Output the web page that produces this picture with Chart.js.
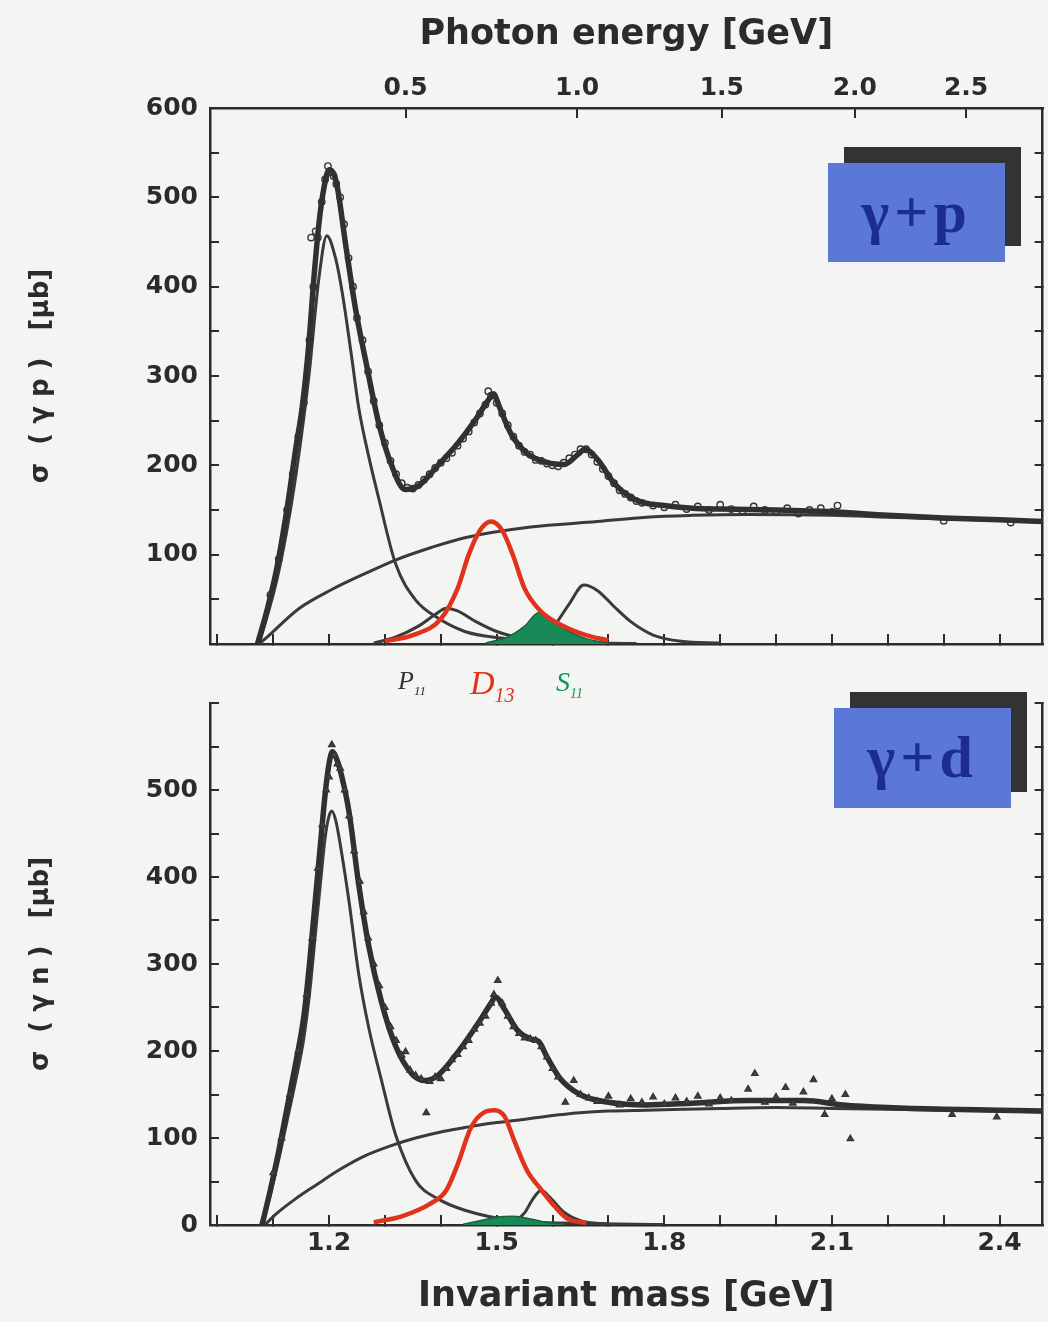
<!DOCTYPE html>
<html>
<head>
<meta charset="utf-8">
<script src="https://cdn.jsdelivr.net/npm/chart.js@4.4.0/dist/chart.umd.min.js"></script>
<style>
body { margin: 0; background: #f4f5f2; width: 1048px; height: 1322px; position: relative; overflow: hidden; }
canvas { position: absolute; left: 0; }
#proton-canvas { top: 0; }
#neutron-canvas { top: 667px; }
.tag { position: absolute; width: 177px; height: 99px; background: #5b78d6; box-shadow: 16px -16px 0 #333;
	font-family: "Liberation Serif", serif; font-size: 60px; font-weight: bold; color: #1d2c91; text-align: center; line-height: 99px; letter-spacing: 5px; }
.res { position: absolute; font-family: "Liberation Serif", serif; font-style: italic; }
</style>
</head>
<body>
<canvas id="proton-canvas" width="1048" height="680"></canvas>
<canvas id="neutron-canvas" width="1048" height="655"></canvas>
<div class="tag" style="left:828px; top:163px;">γ+p</div>
<div class="tag" style="left:834px; top:708px; height:100px;">γ+d</div>
<span class="res" style="left:398px; top:666px; font-size:26px; color:#333;">P<sub style="font-size:13px">11</sub></span>
<span class="res" style="left:470px; top:664px; font-size:34px; color:#e0321c;">D<sub style="font-size:20px">13</sub></span>
<span class="res" style="left:556px; top:666px; font-size:28px; color:#10965a;">S<sub style="font-size:14px">11</sub></span>
<script>
// axis ranges and ticks
const massMin = 0.987, massMax = 2.477;
const massTicks = [1.0, 1.1, 1.2, 1.3, 1.4, 1.5, 1.6, 1.7, 1.8, 1.9, 2.0, 2.1, 2.2, 2.3, 2.4];
const massLabels = ["1.2", "1.5", "1.8", "2.1", "2.4"];
const photonEnergy = ["0.5", "1.0", "1.5", "2.0", "2.5"];
const photonMass = [1.337, 1.644, 1.903, 2.141, 2.340];
const sigmaTicks = [0, 50, 100, 150, 200, 250, 300, 350, 400, 450, 500, 550, 600];

// gamma + p : total fit
const pTotalW = [1.072, 1.09, 1.106, 1.124, 1.141, 1.152, 1.164, 1.173, 1.182, 1.191, 1.200, 1.208, 1.215, 1.230, 1.248, 1.265, 1.289, 1.312, 1.336, 1.360, 1.395, 1.431, 1.461, 1.484, 1.495, 1.502, 1.525, 1.555, 1.591, 1.621, 1.645, 1.658, 1.680, 1.710, 1.738, 1.765, 1.80, 1.85, 1.90, 2.00, 2.10, 2.20, 2.30, 2.40, 2.48];
const pTotal = [0, 40, 83, 148, 221, 265, 337, 410, 471, 511, 531, 527, 511, 446, 373, 319, 247, 200, 173, 177, 200, 225, 250, 272, 280, 270, 236, 213, 203, 201, 212, 218, 207, 180, 165, 158, 155, 152, 151, 150, 148, 144, 141, 139, 137];
// gamma + p : components
const pBackW = [1.075, 1.088, 1.147, 1.205, 1.265, 1.319, 1.383, 1.443, 1.561, 1.680, 1.768, 1.85, 1.95, 2.1, 2.2, 2.3, 2.4, 2.48];
const pBack = [0, 7, 40, 61, 79, 94, 108, 119, 131, 137, 142, 144, 145, 144, 142, 140, 138.5, 136.5];
const pDeltaW = [1.075, 1.106, 1.124, 1.141, 1.164, 1.182, 1.196, 1.212, 1.224, 1.241, 1.253, 1.271, 1.289, 1.319, 1.354, 1.395, 1.443, 1.502, 1.621, 1.75];
const pDelta = [0, 70, 125, 190, 300, 410, 457, 431, 392, 319, 265, 210, 163, 90, 50, 29, 14, 7, 2, 0.5];
const pP11W = [1.28, 1.32, 1.36, 1.39, 1.41, 1.43, 1.46, 1.50, 1.55, 1.62, 1.70];
const pP11 = [1, 8, 20, 33, 40, 37, 26, 14, 6, 2, 0.5];
const pD13W = [1.30, 1.35, 1.40, 1.43, 1.45, 1.47, 1.49, 1.51, 1.53, 1.55, 1.58, 1.62, 1.66, 1.70];
const pD13 = [3, 10, 28, 62, 100, 127, 137, 127, 98, 62, 36, 20, 10, 4];
const pS11W = [1.48, 1.52, 1.55, 1.575, 1.60, 1.63, 1.66, 1.70];
const pS11 = [1, 8, 20, 35, 26, 14, 6, 1];
const pF15W = [1.57, 1.60, 1.63, 1.656, 1.68, 1.71, 1.74, 1.78, 1.83, 1.90];
const pF15 = [5, 18, 45, 66, 60, 42, 25, 10, 3, 1];
// gamma + p : measured points
const pDataW = [1.095, 1.110, 1.125, 1.135, 1.145, 1.155, 1.165, 1.168, 1.172, 1.176, 1.180, 1.187, 1.193, 1.198, 1.203, 1.208, 1.213, 1.220, 1.227, 1.235, 1.243, 1.250, 1.260, 1.270, 1.280, 1.290, 1.300, 1.310, 1.320, 1.330, 1.340, 1.350, 1.360, 1.370, 1.380, 1.390, 1.400, 1.410, 1.420, 1.430, 1.440, 1.450, 1.460, 1.470, 1.480, 1.485, 1.490, 1.500, 1.510, 1.520, 1.530, 1.540, 1.550, 1.560, 1.570, 1.580, 1.590, 1.600, 1.610, 1.620, 1.630, 1.640, 1.650, 1.660, 1.670, 1.680, 1.690, 1.700, 1.710, 1.720, 1.730, 1.740, 1.750, 1.760, 1.780, 1.800, 1.820, 1.840, 1.860, 1.880, 1.900, 1.920, 1.940, 1.960, 1.980, 2.000, 2.020, 2.040, 2.060, 2.080, 2.100, 2.110, 2.300, 2.420];
const pData = [55, 95, 150, 190, 232, 270, 340, 455, 400, 462, 455, 495, 520, 535, 528, 524, 515, 500, 470, 432, 400, 365, 340, 305, 272, 245, 225, 205, 190, 180, 175, 174, 178, 184, 190, 197, 203, 208, 214, 222, 230, 238, 248, 258, 268, 283, 278, 270, 258, 245, 232, 222, 215, 212, 206, 205, 202, 200, 199, 203, 208, 212, 218, 218, 212, 204, 196, 188, 180, 172, 168, 164, 160, 158, 155, 153, 156, 151, 154, 150, 156, 151, 149, 154, 150, 148, 152, 146, 150, 152, 148, 155, 138, 136];

// gamma + n : total fit
const nTotalW = [1.080, 1.095, 1.110, 1.125, 1.140, 1.155, 1.165, 1.175, 1.185, 1.193, 1.200, 1.206, 1.214, 1.223, 1.236, 1.253, 1.271, 1.294, 1.319, 1.348, 1.372, 1.395, 1.431, 1.466, 1.490, 1.498, 1.514, 1.537, 1.560, 1.575, 1.591, 1.614, 1.649, 1.70, 1.768, 1.85, 1.95, 2.05, 2.12, 2.2, 2.3, 2.4, 2.48];
const nTotal = [0, 40, 85, 135, 185, 240, 300, 370, 440, 495, 530, 544, 535, 515, 474, 392, 321, 256, 206, 174, 166, 172, 199, 231, 255, 262, 248, 224, 214, 211, 192, 168, 150, 141, 138, 140, 143, 143, 138, 135, 133, 132, 131];
// gamma + n : components
const nBackW = [1.085, 1.106, 1.14, 1.177, 1.22, 1.266, 1.31, 1.355, 1.40, 1.443, 1.49, 1.532, 1.59, 1.649, 1.70, 1.768, 1.9, 2.0, 2.1, 2.2, 2.3, 2.48];
const nBack = [0, 13, 30, 46, 64, 80, 91, 100, 107, 112, 117, 120, 125, 129, 131, 132, 134, 135, 134, 133, 132, 130];
const nDeltaW = [1.080, 1.095, 1.110, 1.125, 1.140, 1.155, 1.165, 1.175, 1.185, 1.193, 1.200, 1.205, 1.212, 1.222, 1.236, 1.253, 1.271, 1.294, 1.319, 1.355, 1.395, 1.443, 1.532, 1.65, 1.8];
const nDelta = [0, 35, 75, 120, 165, 215, 265, 330, 395, 445, 470, 476, 465, 430, 371, 289, 227, 166, 104, 51, 30, 17, 5, 2, 0.5];
const nD13W = [1.28, 1.33, 1.38, 1.41, 1.431, 1.454, 1.479, 1.496, 1.514, 1.532, 1.555, 1.578, 1.603, 1.625, 1.66];
const nD13 = [3, 10, 24, 40, 71, 112, 130, 132, 125, 96, 62, 42, 22, 8, 2];
const nS11W = [1.44, 1.47, 1.50, 1.53, 1.56, 1.59, 1.62];
const nS11 = [1, 5, 9, 10, 7, 3, 1];
const nF15W = [1.53, 1.55, 1.565, 1.58, 1.595, 1.62, 1.65, 1.70];
const nF15 = [3, 14, 30, 40, 32, 15, 5, 1];
// gamma + n : measured points
const nDataW = [1.100, 1.115, 1.130, 1.145, 1.160, 1.170, 1.180, 1.188, 1.195, 1.200, 1.205, 1.210, 1.215, 1.220, 1.228, 1.236, 1.245, 1.255, 1.262, 1.270, 1.280, 1.290, 1.300, 1.310, 1.320, 1.330, 1.337, 1.345, 1.355, 1.365, 1.374, 1.380, 1.390, 1.400, 1.410, 1.420, 1.430, 1.440, 1.450, 1.460, 1.470, 1.480, 1.490, 1.495, 1.502, 1.510, 1.520, 1.530, 1.540, 1.550, 1.560, 1.570, 1.580, 1.590, 1.600, 1.610, 1.623, 1.638, 1.650, 1.665, 1.680, 1.700, 1.720, 1.740, 1.760, 1.780, 1.800, 1.820, 1.840, 1.860, 1.880, 1.900, 1.920, 1.950, 1.962, 1.980, 2.000, 2.017, 2.030, 2.049, 2.067, 2.087, 2.100, 2.124, 2.133, 2.315, 2.395];
const nData = [60, 100, 150, 200, 265, 330, 410, 460, 500, 515, 552, 540, 530, 525, 500, 470, 430, 395, 360, 330, 300, 275, 250, 228, 212, 195, 199, 178, 172, 168, 129, 165, 170, 168, 180, 190, 196, 205, 212, 225, 232, 240, 255, 265, 281, 255, 240, 228, 220, 215, 214, 212, 205, 193, 180, 170, 141, 166, 150, 146, 142, 148, 138, 145, 141, 147, 139, 146, 142, 148, 139, 146, 143, 156, 174, 141, 147, 158, 140, 153, 167, 127, 145, 150, 99, 127, 124];

const ink = "#2b2b2b";

const pts = (xs, ys) => xs.map((x, i) => ({ x: x, y: ys[i] }));

Chart.defaults.font.family = "DejaVu Sans";
Chart.defaults.font.weight = "bold";
Chart.defaults.color = ink;
Chart.defaults.animation = false;

function curve(xs, ys, color, width, order) {
	return {
		data: pts(xs, ys),
		borderColor: color,
		borderWidth: width,
		pointRadius: 0,
		cubicInterpolationMode: "monotone",
		fill: false,
		order: order,
	};
}

function inwardGrid(len) {
	return { drawOnChartArea: false, drawTicks: true, tickLength: -len, color: ink, lineWidth: 2 };
}

function massAxis(showLabels, height) {
	return {
		type: "linear",
		position: "bottom",
		min: massMin,
		max: massMax,
		afterBuildTicks: (scale) => { scale.ticks = massTicks.map((v) => ({ value: v })); },
		afterFit: (scale) => { scale.height = height; },
		border: { display: true, color: ink, width: 2.5 },
		grid: inwardGrid(10),
		ticks: {
			display: showLabels,
			autoSkip: false,
			maxRotation: 0,
			padding: 13,
			font: { size: 25 },
			callback: (value) => (massLabels.includes(value.toFixed(1)) ? value.toFixed(1) : ""),
		},
		title: {
			display: showLabels,
			text: "Invariant mass [GeV]",
			font: { size: 35 },
			padding: { top: 0, bottom: 4 },
		},
	};
}

function sigmaAxis(title, lo, hi) {
	return {
		type: "linear",
		position: "left",
		min: 0,
		max: 600,
		afterBuildTicks: (scale) => { scale.ticks = sigmaTicks.map((v) => ({ value: v })); },
		afterFit: (scale) => { scale.width = 210; },
		border: { display: true, color: ink, width: 2.5 },
		grid: inwardGrid(9),
		ticks: {
			autoSkip: false,
			padding: 21,
			font: { size: 25 },
			callback: (value) => (value % 100 == 0 && value >= lo && value <= hi ? String(value) : ""),
		},
		title: {
			display: true,
			text: title,
			font: { size: 26 },
			padding: { top: 26, bottom: 0 },
		},
	};
}

function rightAxis() {
	return {
		type: "linear",
		position: "right",
		min: 0,
		max: 600,
		afterBuildTicks: (scale) => { scale.ticks = sigmaTicks.map((v) => ({ value: v })); },
		afterFit: (scale) => { scale.width = 2; },
		border: { display: true, color: ink, width: 2.5 },
		grid: inwardGrid(8),
		ticks: { display: false },
	};
}

function panelData(d) {
	return [
		{
			data: pts(d.dataW, d.data),
			showLine: false,
			pointStyle: d.marker,
			pointRadius: d.marker == "triangle" ? 3.6 : 3.2,
			pointBorderWidth: 1.4,
			pointBorderColor: "#333",
			pointBackgroundColor: d.marker == "triangle" ? "#444" : "rgba(255,255,255,0)",
			order: 0,
		},
		curve(d.totalW, d.total, "#303030", 5.5, 1),
		curve(d.d13W, d.d13, "#e0321c", 4.5, 2),
		Object.assign(curve(d.s11W, d.s11, "#1d5e40", 1.5, 3), { fill: "origin", backgroundColor: "#178a58" }),
		curve(d.deltaW, d.delta, "#3a3a3a", 3, 4),
		curve(d.backW, d.back, "#3a3a3a", 3, 4),
		curve(d.p11W, d.p11, "#3a3a3a", 3, 4),
		curve(d.f15W, d.f15, "#3a3a3a", 3, 4),
	];
}

const commonOptions = {
	responsive: false,
	devicePixelRatio: 1,
	layout: { padding: 0 },
	plugins: { legend: { display: false }, tooltip: { enabled: false } },
};

new Chart("proton-canvas", {
	type: "line",
	data: {
		datasets: panelData({
			marker: "circle", dataW: pDataW, data: pData, totalW: pTotalW, total: pTotal,
			d13W: pD13W, d13: pD13, s11W: pS11W, s11: pS11, deltaW: pDeltaW, delta: pDelta,
			backW: pBackW, back: pBack, p11W: pP11W, p11: pP11, f15W: pF15W, f15: pF15,
		}),
	},
	options: Object.assign({}, commonOptions, {
		scales: {
			x: massAxis(false, 13),
			photon: {
				type: "linear",
				position: "top",
				min: massMin,
				max: massMax,
				afterBuildTicks: (scale) => { scale.ticks = photonMass.map((v) => ({ value: v })); },
				afterFit: (scale) => { scale.height = 108; },
				border: { display: true, color: ink, width: 2.5 },
				grid: inwardGrid(10),
				ticks: {
					autoSkip: false,
					maxRotation: 0,
					padding: 15,
					font: { size: 25 },
					callback: (value, index) => photonEnergy[index],
				},
				title: {
					display: true,
					text: "Photon energy [GeV]",
					font: { size: 35 },
					padding: { top: 14, bottom: 0 },
				},
			},
			y: sigmaAxis("σ  ( γ p )   [μb]", 100, 600),
			yRight: rightAxis(),
		},
	}),
});

new Chart("neutron-canvas", {
	type: "line",
	data: {
		datasets: panelData({
			marker: "triangle", dataW: nDataW, data: nData, totalW: nTotalW, total: nTotal,
			d13W: nD13W, d13: nD13, s11W: nS11W, s11: nS11, deltaW: nDeltaW, delta: nDelta,
			backW: nBackW, back: nBack, p11W: [], p11: [], f15W: nF15W, f15: nF15,
		}),
	},
	options: Object.assign({}, commonOptions, {
		scales: {
			x: massAxis(true, 97),
			y: sigmaAxis("σ  ( γ n )   [μb]", 0, 500),
			yRight: rightAxis(),
		},
	}),
});
</script>
</body>
</html>
